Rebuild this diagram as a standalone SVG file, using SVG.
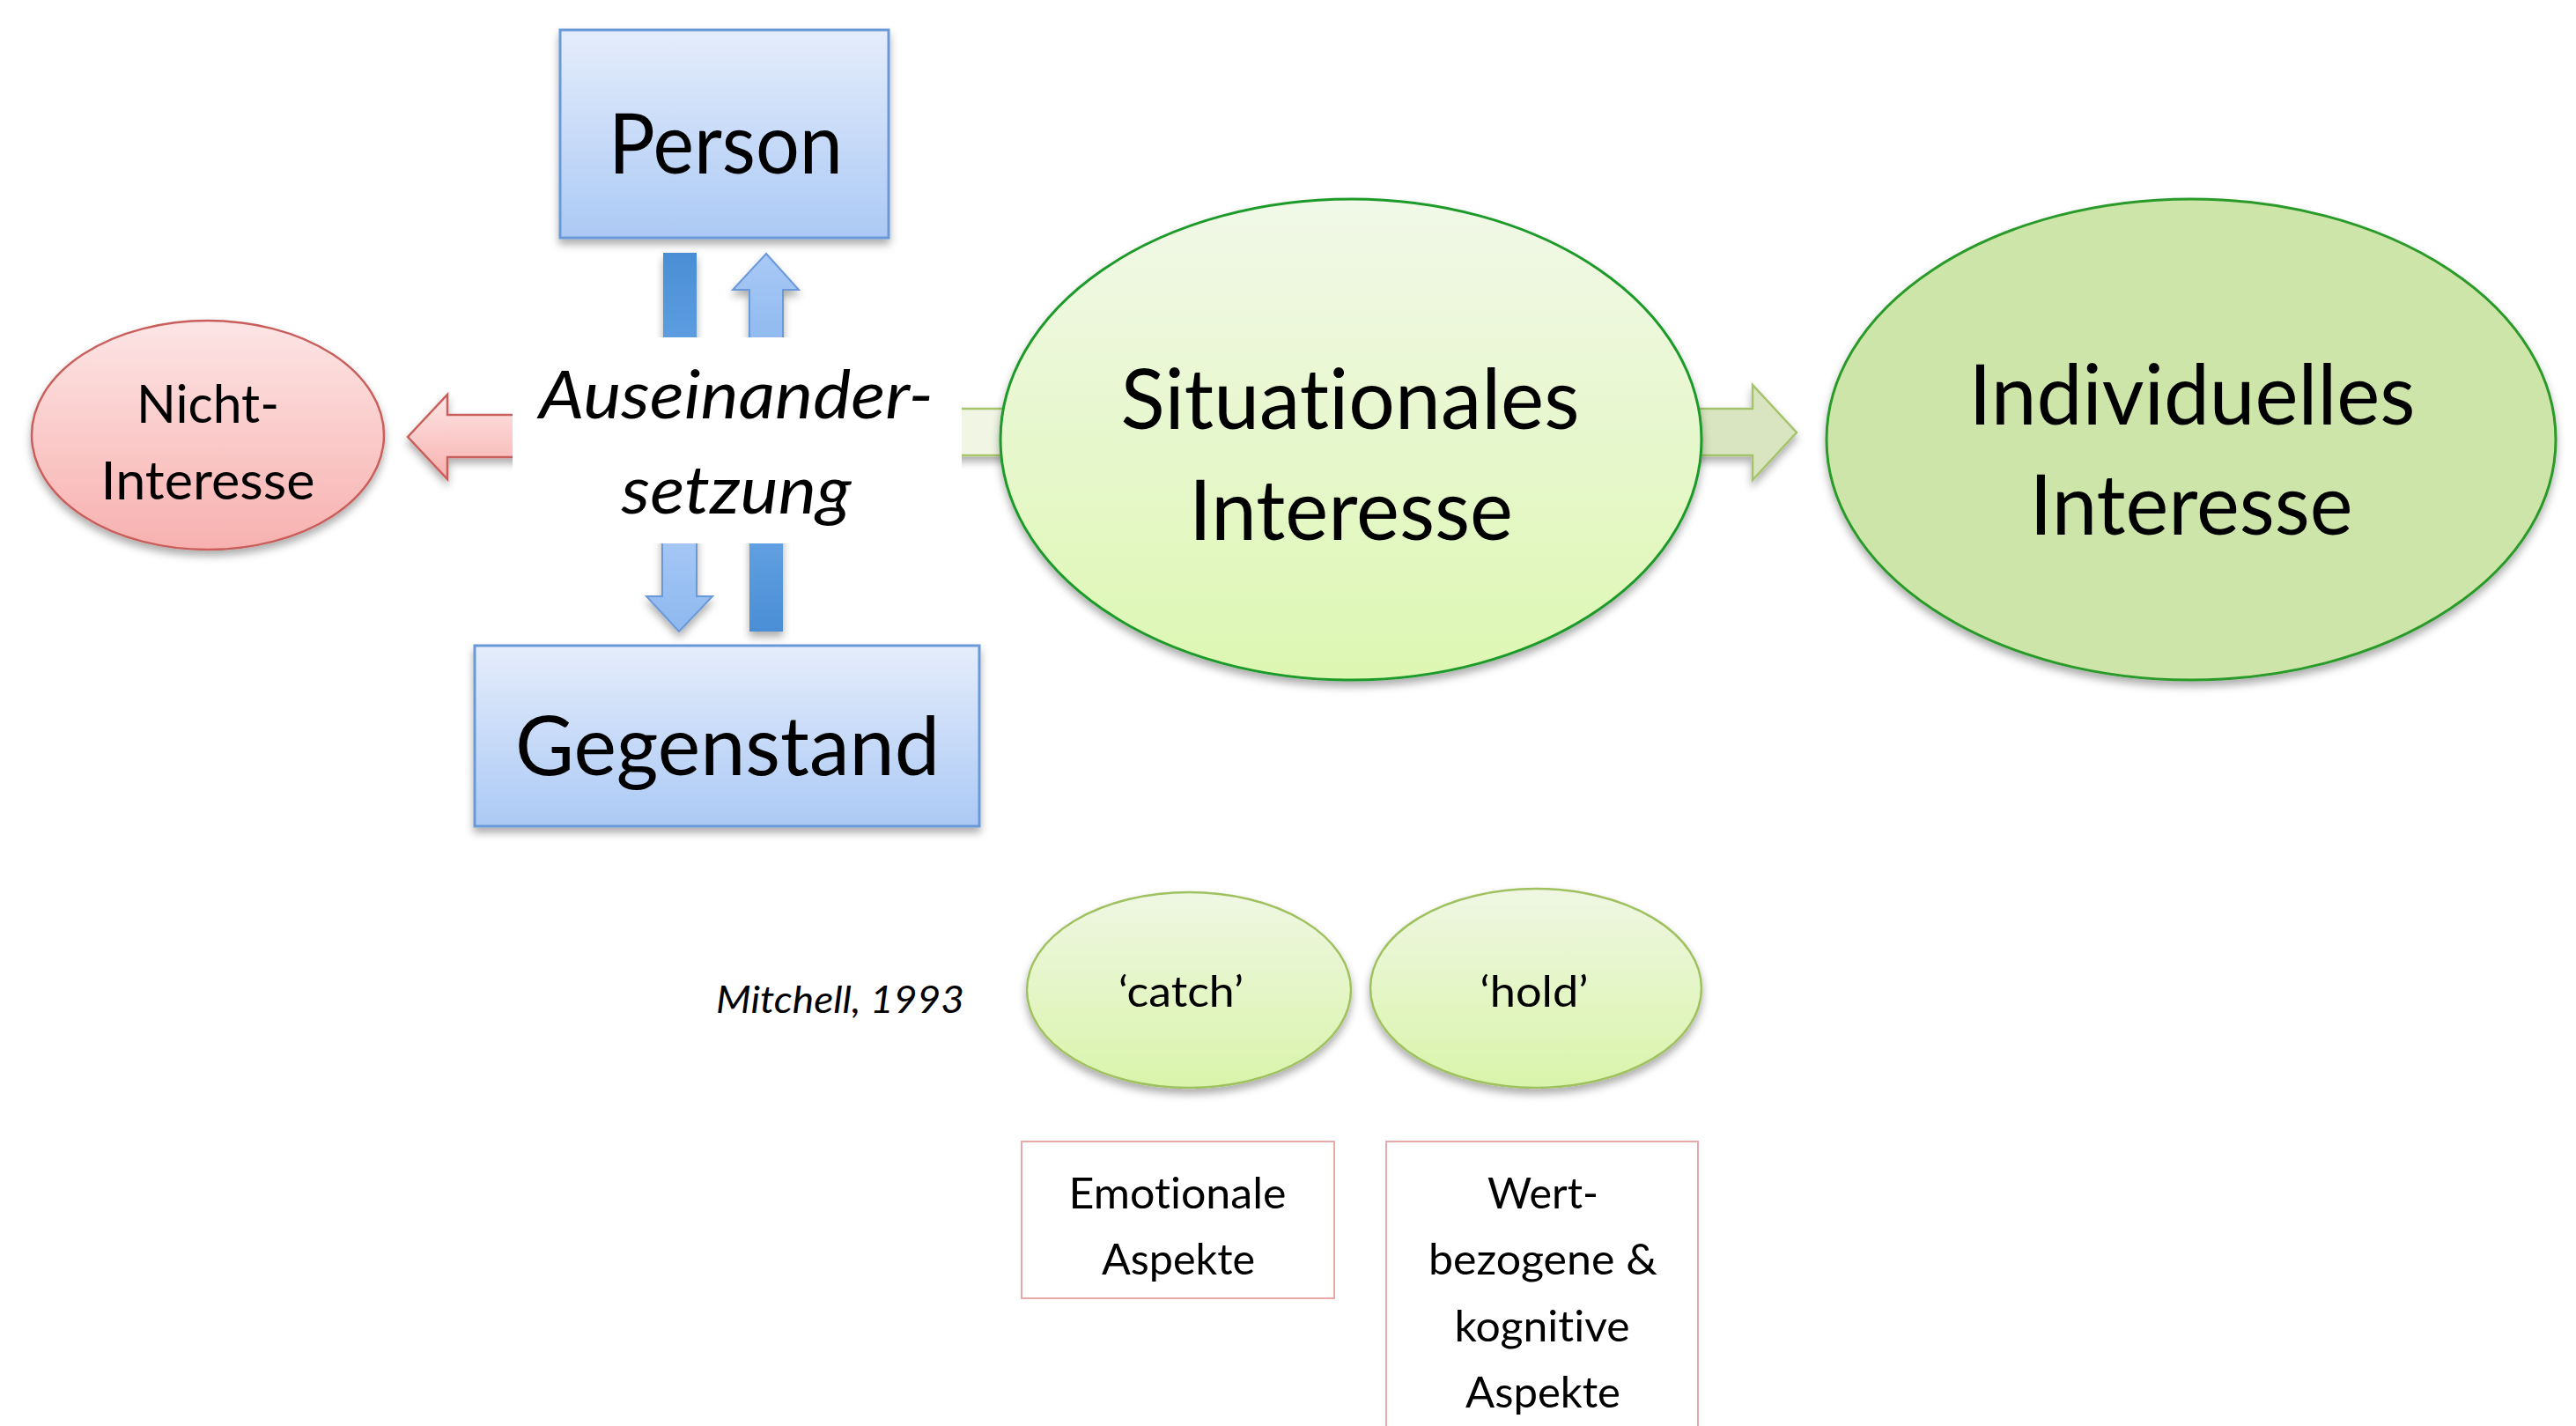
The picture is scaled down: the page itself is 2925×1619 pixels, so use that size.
<svg xmlns="http://www.w3.org/2000/svg" width="2925" height="1619" viewBox="0 0 2925 1619">
<defs>
  <filter id="sh" x="-20%" y="-20%" width="140%" height="150%">
    <feDropShadow dx="0" dy="6" stdDeviation="5" flood-color="#000" flood-opacity="0.32"/>
  </filter>
  <linearGradient id="gBox" x1="0" y1="0" x2="0" y2="1">
    <stop offset="0" stop-color="#e5edfb"/>
    <stop offset="1" stop-color="#abc9f5"/>
  </linearGradient>
  <linearGradient id="gDark" x1="0" y1="0" x2="0" y2="1">
    <stop offset="0" stop-color="#4a8ed5"/>
    <stop offset="1" stop-color="#5f9fe2"/>
  </linearGradient>
  <linearGradient id="gDark2" x1="0" y1="0" x2="0" y2="1">
    <stop offset="0" stop-color="#64a2e3"/>
    <stop offset="1" stop-color="#4a8ed5"/>
  </linearGradient>
  <linearGradient id="gLight" x1="0" y1="0" x2="0" y2="1">
    <stop offset="0" stop-color="#a9c9f6"/>
    <stop offset="1" stop-color="#8db8ef"/>
  </linearGradient>
  <linearGradient id="gRed" x1="0" y1="0" x2="0" y2="1">
    <stop offset="0" stop-color="#fde5e5"/>
    <stop offset="1" stop-color="#f7b1af"/>
  </linearGradient>
  <linearGradient id="gSit" x1="0" y1="0" x2="0" y2="1">
    <stop offset="0" stop-color="#f1f8e8"/>
    <stop offset="1" stop-color="#ddf7b2"/>
  </linearGradient>
  <linearGradient id="gSmall" x1="0" y1="0" x2="0" y2="1">
    <stop offset="0" stop-color="#eff7e3"/>
    <stop offset="1" stop-color="#d9f4aa"/>
  </linearGradient>
  <style>
    .t { font-family: Lato, "Liberation Sans", sans-serif; fill: #000; text-anchor: middle; font-variant-ligatures: none; font-feature-settings: "liga" 0, "clig" 0; }
    .it { font-style: italic; }
    .box { fill: url(#gBox); stroke: #6a99d7; stroke-width: 3; }
    .pinkbox { fill: #fff; stroke: #e8a9a9; stroke-width: 2; }
    .redShape { fill: url(#gRed); stroke: #c95f5b; stroke-width: 2.5; }
    .lightArrow { fill: url(#gLight); stroke: #6a99d7; stroke-width: 2; }
    .smallEll { fill: url(#gSmall); stroke: #9fc160; stroke-width: 2.5; }
  </style>
</defs>
<rect width="2925" height="1619" fill="#fff"/>

<g id="connectors">
  <path id="arrow-nicht" class="redShape" filter="url(#sh)" d="M463,496 L508,448 L508,471 L600,471 L600,519 L508,519 L508,544 Z"/>
  <rect id="bar-up-left" x="753" y="287" width="38" height="110" fill="url(#gDark)" filter="url(#sh)"/>
  <path id="arrow-up-person" class="lightArrow" filter="url(#sh)" d="M870,288 L907,329 L889,329 L889,400 L851,400 L851,329 L832,329 Z"/>
  <path id="arrow-down-gegenstand" class="lightArrow" filter="url(#sh)" d="M752,600 L791,600 L791,677 L809,677 L771,717 L734,677 L752,677 Z"/>
  <rect id="bar-down-right" x="851" y="600" width="38" height="117" fill="url(#gDark2)" filter="url(#sh)"/>
  <path id="arrow-situational" d="M1070,464 L1200,464 L1200,517 L1070,517 Z" fill="#f0f5e4" stroke="#a8c56c" stroke-width="2.5" filter="url(#sh)"/>
  <path id="arrow-individuell" d="M1900,464 L1990,464 L1990,437 L2040,491 L1990,545 L1990,517 L1900,517 Z" fill="#d9e5c0" stroke="#a5c36c" stroke-width="2.5" filter="url(#sh)"/>
</g>

<g id="node-person">
  <rect class="box" x="636" y="34" width="373" height="236" filter="url(#sh)"/>
  <text class="t" x="824" y="197" font-size="95" textLength="266" lengthAdjust="spacingAndGlyphs">Person</text>
</g>

<g id="node-gegenstand">
  <rect class="box" x="539" y="733" width="573" height="205" filter="url(#sh)"/>
  <text class="t" x="826" y="880" font-size="94" textLength="482" lengthAdjust="spacingAndGlyphs">Gegenstand</text>
</g>

<g id="node-auseinandersetzung">
  <rect x="582" y="383" width="510" height="234" fill="#fff"/>
  <text class="t it" x="836" y="475" font-size="76" textLength="448" lengthAdjust="spacingAndGlyphs">Auseinander-</text>
  <text class="t it" x="836" y="583" font-size="76" textLength="261" lengthAdjust="spacingAndGlyphs">setzung</text>
</g>

<g id="node-nicht-interesse">
  <ellipse class="redShape" cx="236" cy="494" rx="200" ry="130" filter="url(#sh)"/>
  <text class="t" x="236" y="480" font-size="60" textLength="162" lengthAdjust="spacingAndGlyphs">Nicht-</text>
  <text class="t" x="236" y="567" font-size="60" textLength="243" lengthAdjust="spacingAndGlyphs">Interesse</text>
</g>

<g id="node-situationales">
  <ellipse cx="1534" cy="499" rx="398" ry="273" fill="url(#gSit)" stroke="#1f9a2a" stroke-width="3" filter="url(#sh)"/>
  <text class="t" x="1533" y="487" font-size="95" textLength="521" lengthAdjust="spacingAndGlyphs">Situationales</text>
  <text class="t" x="1534" y="613" font-size="95" textLength="368" lengthAdjust="spacingAndGlyphs">Interesse</text>
</g>

<g id="node-individuelles">
  <ellipse cx="2488" cy="499" rx="414" ry="273" fill="#cde5a8" stroke="#2a9a2a" stroke-width="3" filter="url(#sh)"/>
  <text class="t" x="2489" y="482" font-size="95" textLength="507" lengthAdjust="spacingAndGlyphs">Individuelles</text>
  <text class="t" x="2488" y="607" font-size="95" textLength="367" lengthAdjust="spacingAndGlyphs">Interesse</text>
</g>

<g id="label-mitchell">
  <text class="t it" x="954" y="1150" font-size="43" textLength="282" lengthAdjust="spacingAndGlyphs">Mitchell, 1993</text>
</g>

<g id="node-catch">
  <ellipse class="smallEll" cx="1350" cy="1124" rx="184" ry="111" filter="url(#sh)"/>
  <text class="t" x="1341" y="1143" font-size="48" textLength="142" lengthAdjust="spacingAndGlyphs">‘catch’</text>
</g>

<g id="node-hold">
  <ellipse class="smallEll" cx="1744" cy="1122" rx="188" ry="113" filter="url(#sh)"/>
  <text class="t" x="1742" y="1143" font-size="48" textLength="123" lengthAdjust="spacingAndGlyphs">‘hold’</text>
</g>

<g id="node-emotionale">
  <rect class="pinkbox" x="1160" y="1296" width="355" height="178"/>
  <text class="t" x="1337" y="1372" font-size="48" textLength="247" lengthAdjust="spacingAndGlyphs">Emotionale</text>
  <text class="t" x="1338" y="1447" font-size="48" textLength="174" lengthAdjust="spacingAndGlyphs">Aspekte</text>
</g>

<g id="node-wert">
  <rect class="pinkbox" x="1574" y="1296" width="354" height="360"/>
  <text class="t" x="1752" y="1372" font-size="48" textLength="126" lengthAdjust="spacingAndGlyphs">Wert-</text>
  <text class="t" x="1752" y="1447" font-size="48" textLength="260" lengthAdjust="spacingAndGlyphs">bezogene &amp;</text>
  <text class="t" x="1751" y="1523" font-size="48" textLength="199" lengthAdjust="spacingAndGlyphs">kognitive</text>
  <text class="t" x="1752" y="1598" font-size="48" textLength="176" lengthAdjust="spacingAndGlyphs">Aspekte</text>
</g>
</svg>
